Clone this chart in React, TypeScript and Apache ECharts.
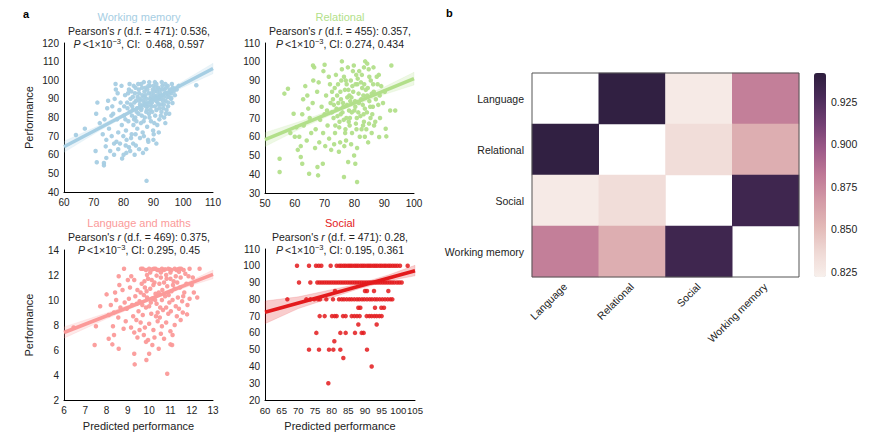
import React, { useEffect, useRef } from "react";
import * as echarts from "echarts";

const FONT = "'Liberation Sans', Arial, Helvetica, sans-serif";

// ---------- Panel a: scatter data ----------
const WM_COLOR = "#a6cee3";
const REL_COLOR = "#b2df8a";
const LANG_COLOR = "#fb9a99";
const SOC_COLOR = "#e31a1c";

const WM_POINTS: number[][] = [
  [80.5,92],[81.2,88],[81.8,95],[82.3,90],[82.9,86],[83.4,97],[83.8,93],[84.2,89],[84.7,91],[85.1,95],[85.5,87],[85.9,98],[86.3,92],[86.6,89],[87.0,94],[87.4,96],[87.7,90],[88.1,86],[88.4,93],[88.8,97],[89.1,91],[89.5,88],[89.8,95],[90.2,92],[90.5,99],[90.9,89],[91.2,94],[91.6,96],[91.9,90],[92.3,93],[92.6,87],[93.0,97],[93.4,91],[93.7,95],[94.1,89],[94.5,93],[94.8,97],[95.2,91],[95.6,95],[96.0,93],[83.0,84],[84.5,85],[86.0,85],[87.5,86],[89.0,84],[90.5,86],[92.0,85],[93.5,87],[95.0,88],[96.5,96],[97.2,92],[82.0,98],[84.0,96],[86.8,99],[88.6,99],[90.0,97],[91.0,98],[92.8,99],[94.0,98],[96.2,98],[85.2,93],[86.9,91],[88.0,95],[89.3,93],[90.7,91],[92.1,95],[93.2,89],[94.6,91],[87.2,88],[88.9,90],[91.4,88],[85.7,90],[83.6,88],[81.5,93],[80.2,86],
  [82.6,94],[83.1,91],[84.9,98],[85.3,89],[86.2,96],[86.9,87],[87.3,92],[88.3,97],[89.0,87],[89.7,90],[90.3,94],[90.8,96],[91.5,92],[92.4,90],[92.9,95],[93.9,93],[94.3,96],[95.4,93],[95.9,90],[96.8,94],[84.4,83],[85.9,84],[87.8,84],[89.4,86],[91.7,87],[93.3,85],[94.9,86],[83.5,79],[86.7,78],[88.7,80],[90.3,77],[92.5,81],[94.2,82],[81.3,85],[82.4,87],
  [76.5,82],[77.8,79],[78.6,84],[79.4,76],[80.1,81],[80.8,73],[81.6,78],[82.1,83],[82.7,71],[83.3,76],[83.9,80],[84.6,74],[85.0,82],[85.8,77],[86.4,72],[87.1,80],[87.9,75],[88.5,82],[89.2,78],[89.9,73],[90.6,81],[91.3,76],[92.0,79],[92.7,83],[93.6,80],[94.4,84],[95.3,82],[78.2,72],[79.9,70],[81.0,68],[82.5,69],[84.0,71],[85.5,69],[86.8,70],[88.2,68],[90.1,71],[91.8,72],[84.3,78],[86.1,81],[87.6,83],[89.6,83],[91.0,84],[80.6,79],[82.8,81],
  [72.0,77],[73.6,79],[74.8,89],[75.9,81],[77.0,90],[77.4,95],[77.3,98],[76.2,86],[75.1,74],[74.2,68],[73.0,71],[76.8,66],[78.0,93],[79.0,88],[79.3,97],[71.2,88],[70.8,82],[74.5,85],[76.0,70],[78.8,66],
  [70.6,62],[71.0,56],[73.4,55.6],[73.4,54.3],[74.2,58.3],[74.0,64.5],[75.5,62],[76.8,60],[78.2,63],[79.5,58],[80.0,60],[80.7,65],[80.9,61],[81.8,64],[83.2,66],[84.1,65],[85.2,63],[86.5,61],[87.6,63],[88.3,67],[90.0,68],[91.0,66],[83.7,60],[77.6,67],[82.2,62],
  [64,70.6],[67,74],[87.7,46],[104.4,97.3],[96,90.5],[96.4,87.8],[94,77],[97.8,95],[98.5,97]
];

const REL_POINTS: number[][] = [
  [70,72],[71,66],[72,78],[72.5,84],[73,70],[73.5,62],[74,75],[74.5,88],[75,68],[75.5,80],[76,73],[76.5,92],[77,64],[77.5,77],[78,85],[78.5,70],[79,81],[79.5,95],[80,74],[80.5,67],[81,88],[81.5,78],[82,71],[82.5,93],[83,82],[83.5,75],[84,64],[84.5,86],[85,79],[85.5,90],[86,72],[86.5,84],[87,68],[87.5,92],[88,77],[74.2,82],[76.8,85],[78.8,90],[80.6,93],[82.2,89],[84.8,96],[79.2,62],[81.8,60],[77.2,58],[75.2,57],[73.2,56],[71.5,59],[69.5,62],[68.5,69],[69,76],[70.5,82],[71.8,88],[73.8,93],[75.8,96],[77.8,97],[79.8,98],[76.2,78],[78.2,74],[80.2,79],[82.8,77],[84.2,73],[86.2,76],[88.5,82],[89,87],[87.8,88],[85.8,83],[83.8,85],[79.6,84],[77.6,81],[75.4,72],[73.6,66],[72.4,73],[81.4,83],[83.2,68],[80.8,70],[78.4,66],[76.4,69],[74.6,78],[72.8,80],[70.8,74],[85.4,70],[87.2,80],[82.6,86],[80.4,88],[78.6,79],[77.4,88],[75.6,90],[73.4,86],[71.4,92],[69.6,95],[66.5,97],[68,89],[67.5,84],[66,78],[65,70],[64.5,75],[63,66],[62.5,72],[61.5,60],[60.5,65],[62,55],[64,58],[65.5,62],[66.8,54],[68.2,57],[67,64],[64.2,82],[63.5,87],[62.8,80],[66.2,90],[70.2,55],[72.2,53],[74.8,52],[76.6,55],[78.9,56],[80.9,54],[83.5,60],[85.8,62],[84.6,57],[82.4,64],[86.6,66],[88.6,70],[89.6,78],[90.2,84],[88.2,93],[86.4,97],[83.2,97],[81.6,95],[85,92],
  [73.1,77],[74.3,71],[75.3,84],[76.3,76],[77.3,70],[78.3,82],[79.3,87],[80.3,76],[81.3,73],[82.3,80],[83.3,88],[84.3,82],[85.3,76],[86.3,88],[77.1,90],[79.1,73],[81.1,91],[83.1,72],[74.9,65],[76.9,62],[80.7,64],[82.9,66],[78.1,68],[84.9,67],
  [54.9,48.3],[54.9,41.2],[57.7,85.6],[56.5,83],[59.6,72.3],[62,49.2],[62.5,45.6],[64.8,40.3],[67.8,39.4],[67.6,43.9],[69.4,45.6],[66.1,98],[70,98.4],[76.5,38.5],[77.9,46.5],[80.3,45.6],[80.9,35.9],[79.9,50],[75.8,100.2],[83.6,100.2],[84.3,99],[92.4,98],[88.3,59.9],[90.7,60.2],[90.5,64.3],[92,74],[93.7,74],[61,53],[60,60],[58.5,62]
];

const LANG_POINTS: number[][] = [
  [9.7,12.5],[9.85,12.4],[10.0,12.5],[10.15,12.45],[10.3,12.5],[10.45,12.4],[10.6,12.5],[10.75,12.45],[10.9,12.5],[11.05,12.4],[11.2,12.5],[11.35,12.45],[11.5,12.5],[11.62,12.4],[10.05,12.2],[10.55,12.2],[11.0,12.2],[11.4,12.25],[9.9,12.0],[10.35,11.95],[10.8,12.0],[11.25,11.9],
  [9.62,12.5],[10.22,12.5],[10.38,12.4],[10.68,12.4],[10.98,12.45],[11.28,12.4],[11.42,12.5],[9.78,11.5],[10.12,11.6],[10.48,11.3],[10.82,11.7],[11.12,11.2],[11.48,11.8],[9.88,10.7],[10.28,10.0],[10.62,10.8],[10.92,10.4],[11.32,11.4],[9.68,9.6],[10.08,9.8],[10.52,9.4],[11.02,9.1],[11.58,9.0],[9.42,9.7],[10.32,8.7],
  [9.3,11.6],[9.45,10.8],[9.55,9.9],[9.65,11.3],[9.75,10.4],[9.85,9.4],[9.95,11.7],[10.05,10.9],[10.15,10.1],[10.25,11.4],[10.35,9.7],[10.45,10.6],[10.55,11.8],[10.65,9.2],[10.75,10.3],[10.85,11.1],[10.95,9.8],[11.05,10.7],[11.15,11.5],[11.25,9.5],[11.35,10.2],[11.45,11.0],[11.55,9.9],[11.65,10.6],[11.75,11.3],[9.5,9.1],[9.7,8.8],[9.9,10.2],[10.1,8.9],[10.3,10.5],[10.5,8.6],[10.7,11.4],[10.9,8.9],[11.1,10.0],[11.3,8.7],[9.35,10.3],[9.6,10.6],[9.8,11.0],[10.0,9.5],[10.2,11.2],[10.4,9.0],[10.6,10.0],[10.8,9.4],[11.0,11.7],[11.2,10.9],[11.4,9.3],[11.6,10.3],[11.8,9.6],[9.2,9.6],[9.05,10.1],[8.95,9.3],[9.1,11.0],[9.25,8.7],[9.4,8.4],[9.6,8.2],[9.8,7.8],[10.0,8.1],[10.2,7.6],[10.4,8.3],[10.6,7.9],[10.8,8.2],[11.0,7.5],[11.2,8.0],[9.55,7.6],[9.75,7.2],[9.95,6.8],[10.25,7.0],[10.55,7.3],[10.7,6.9],[11.1,7.2],[9.45,7.0],[10.15,6.4],[10.45,6.1],[9.85,6.65],
  [8.1,8.8],[8.2,9.6],[8.35,9.0],[8.45,10.0],[8.55,8.6],[8.65,9.4],[8.75,10.8],[8.85,9.8],[8.9,8.3],[9.0,11.6],[8.6,11.2],[8.4,10.6],[8.3,7.9],[8.8,7.7],[9.15,7.8],[9.3,7.4],[12.0,11.2],[11.9,10.1],[11.85,11.9],[12.1,10.6],[11.7,12.1],[12.05,11.8],
  [6.45,7.8],[7.5,7.9],[7.44,6.4],[8.0,10.45],[7.7,9.5],[8.1,6.9],[8.27,6.45],[8.57,6.1],[8.35,7.2],[8.82,12.5],[9.3,5.7],[9.32,4.85],[9.87,5.2],[10.0,5.7],[10.85,4.1],[11.0,6.45],[11.08,6.4],[11.9,12.5],[12.37,12.5],[12.26,10.2],[11.78,8.85],[11.48,8.4],[8.57,11.9],[9.16,11.9]
];

const SOC_POINTS: number[][] = [
  [69.6,100],[73.2,100],[75.3,100],[76.1,100],[76.9,100],[79.7,100],[81.5,100],[82.3,100],[82.9,100],[83.6,100],[84.2,100],[84.9,100],[85.5,100],[86.1,100],[86.8,100],[87.4,100],[88.0,100],[88.7,100],[89.3,100],[89.9,100],[90.6,100],[91.2,100],[91.8,100],[92.5,100],[93.1,100],[93.7,100],[94.4,100],[95.0,100],[95.7,100],[96.3,100],[97.0,100],[97.6,100],[98.3,100],[99.0,100],[99.7,100],[100.5,100],[102.8,100],
  [70.2,90],[73.6,90],[75.7,90],[76.4,90],[77.1,90],[77.8,90],[78.5,90],[79.2,90],[79.9,90],[80.6,90],[81.3,90],[82.0,90],[82.7,90],[83.4,90],[84.1,90],[84.8,90],[85.5,90],[86.2,90],[86.9,90],[87.6,90],[88.3,90],[89.0,90],[89.7,90],[90.4,90],[91.1,90],[91.8,90],[92.5,90],[93.2,90],[93.9,90],[94.6,90],[95.3,90],[96.0,90],[96.7,90],[97.4,90],[98.1,90],[98.8,90],[99.6,90],[100.3,90],[101.0,90],
  [81.0,85],[90.0,85],[90.6,85],[92.7,85],[97.0,85],
  [66.7,80],[72.4,80],[73.6,80],[74.8,80],[75.9,80],[76.5,80],[78.4,80],[80.4,80],[82.2,80],[83.0,80],[83.7,80],[84.5,80],[85.3,80],[86.0,80],[86.8,80],[87.6,80],[88.3,80],[89.1,80],[89.8,80],[90.6,80],[91.4,80],[92.1,80],[92.9,80],[93.6,80],[94.4,80],[95.2,80],[96.0,80],[96.8,80],[97.6,80],[98.2,80],
  [88.0,75],[88.6,75],[93.0,75],[94.9,75],[95.7,75],
  [76.4,70],[77.9,70],[80.1,70],[80.9,70],[81.5,70],[83.4,70],[84.2,70],[86.0,70],[86.8,70],[87.6,70],[88.4,70],[90.5,70],[91.3,70],[92.0,70],[92.8,70],[93.5,70],[94.3,70],[95.0,70],
  [88.0,65],[93.5,65],
  [75.4,60],[82.6,60],[84.2,60],[87.0,60],[89.0,60],[89.6,60],
  [80.8,55],
  [73.2,50],[76.2,50],[79.2,50],[80.5,50],[82.6,50],[90.6,50],
  [83.5,45],[92.0,40],[79.0,30]
];

// regression lines (end points)
const WM_FIT = [[60, 64.3], [110, 106.3]];
const REL_FIT = [[50, 58.5], [100, 91]];
const LANG_FIT = [[6, 7.4], [13, 12.05]];
const SOC_FIT = [[60, 72.3], [105, 97]];

// confidence bands: x, lower, upper
const WM_BAND_X = [60, 72, 85, 98, 110];
const WM_BAND_LO = [61.3, 73.0, 84.5, 94.8, 103.5];
const WM_BAND_HI = [67.3, 75.8, 86.1, 97.6, 109.1];
const REL_BAND_X = [50, 63, 77, 90, 100];
const REL_BAND_LO = [54.8, 65.2, 75.0, 82.5, 87.6];
const REL_BAND_HI = [62.2, 68.8, 77.2, 86.5, 94.4];
const LANG_BAND_X = [6, 8, 10.2, 12, 13];
const LANG_BAND_LO = [6.95, 8.5, 10.07, 11.18, 11.7];
const LANG_BAND_HI = [7.85, 8.96, 10.31, 11.58, 12.4];
const SOC_BAND_X = [60, 70, 88, 97, 105];
const SOC_BAND_LO = [65.5, 74.5, 86.2, 91, 94];
const SOC_BAND_HI = [79, 81.5, 89.2, 94.5, 100.3];

// ---------- Panel b: heatmap ----------
const TASKS = ["Language", "Relational", "Social", "Working memory"];
// [col, row, value]; diagonal left empty
const HEAT_VALUES: number[][] = [
  [1, 0, 0.940], [2, 0, 0.826], [3, 0, 0.879],
  [0, 1, 0.940], [2, 1, 0.834], [3, 1, 0.857],
  [0, 2, 0.826], [1, 2, 0.834], [3, 2, 0.933],
  [0, 3, 0.879], [1, 3, 0.857], [2, 3, 0.933],
];
const HEAT_MIN = 0.822;
const HEAT_MAX = 0.942;
const COLORBAR_TICKS = [0.825, 0.85, 0.875, 0.9, 0.925];
const HEAT_COLORS = ["#f8f0ec", "#efd8d4", "#e2b8b6", "#d39aa6", "#bf7896", "#9d5a88", "#734073", "#4b2c5a", "#2d1e3e"];

const TXT = "#222";

function valueAxis(gridIndex: number, min: number, max: number, interval: number, name?: string, isY?: boolean, labelSize = 10) {
  return {
    type: "value",
    gridIndex,
    min,
    max,
    interval,
    name: name || "",
    nameLocation: "middle",
    nameGap: isY ? 30 : 20,
    nameTextStyle: { fontFamily: FONT, fontSize: 11, color: TXT },
    axisLine: { show: true, lineStyle: { color: "#000", width: 1 } },
    axisTick: { show: false },
    splitLine: { show: false },
    axisLabel: { fontFamily: FONT, fontSize: labelSize, color: TXT, margin: 5, hideOverlap: false },
  };
}

function scatter(idx: number, pts: number[][], color: string, opacity = 0.95) {
  return {
    type: "scatter",
    xAxisIndex: idx,
    yAxisIndex: idx,
    data: pts,
    symbolSize: 4.5,
    itemStyle: { color, opacity },
    z: 2,
  };
}

function fit(idx: number, pts: number[][], color: string) {
  return {
    type: "line",
    xAxisIndex: idx,
    yAxisIndex: idx,
    data: pts,
    symbol: "none",
    lineStyle: { color, width: 3.5 },
    z: 4,
  };
}

function band(idx: number, xs: number[], lo: number[], hi: number[], color: string) {
  const data = xs.map((x, i) => [x, lo[i], hi[i]]);
  return {
    type: "custom",
    xAxisIndex: idx,
    yAxisIndex: idx,
    data,
    encode: { x: 0, y: [1, 2] },
    z: 3,
    renderItem: (params: any, api: any) => {
      if (params.dataIndex !== 0) return null;
      const top = data.map((d) => api.coord([d[0], d[2]]));
      const bot = data.map((d) => api.coord([d[0], d[1]])).reverse();
      return {
        type: "polygon",
        shape: { points: top.concat(bot) },
        style: { fill: color, opacity: 0.22, stroke: color, lineWidth: 0.6 },
      };
    },
  };
}

function statText(cx: number, y: number, name: string, color: string, df: string, r: string, ci: string) {
  return [
    {
      type: "text",
      x: cx,
      y: y,
      style: { text: name, fill: color, font: `11px ${FONT}`, textAlign: "center", textVerticalAlign: "middle" },
    },
    {
      type: "text",
      x: cx,
      y: y + 14,
      style: {
        text: `Pearson's {i|r} (d.f. = ${df}): ${r},`,
        rich: { i: { fontStyle: "italic", fontFamily: FONT, fontSize: 10.5, fill: TXT } },
        fill: TXT,
        font: `10.5px ${FONT}`,
        textAlign: "center",
        textVerticalAlign: "middle",
      },
    },
    {
      type: "text",
      x: cx,
      y: y + 27,
      style: {
        text: `{i|P}\u2009<1\u00d710{s|\u22123}, CI: ${ci}`,
        rich: {
          i: { fontStyle: "italic", fontFamily: FONT, fontSize: 10.5, fill: TXT },
          s: { fontFamily: FONT, fontSize: 7.5, fill: TXT, verticalAlign: "top", padding: [0, 0, 5, 0] },
        },
        fill: TXT,
        font: `10.5px ${FONT}`,
        textAlign: "center",
        textVerticalAlign: "middle",
      },
    },
  ];
}

export default function App() {
  const ref = useRef<HTMLDivElement>(null);
  useEffect(() => {
    if (!ref.current) return;
    const chart = echarts.init(ref.current, null, { renderer: "svg" });
    const option: any = {
      animation: false,
      backgroundColor: "#fff",
      textStyle: { fontFamily: FONT },
      grid: [
        { left: 64, top: 43, width: 149, height: 149 },
        { left: 265, top: 43, width: 149, height: 150 },
        { left: 64, top: 250, width: 149, height: 150 },
        { left: 265, top: 249, width: 150, height: 151 },
        { left: 532, top: 73, width: 267, height: 204 },
        { left: 814, top: 73, width: 12, height: 204 },
      ],
      xAxis: [
        valueAxis(0, 60, 110, 10),
        valueAxis(1, 50, 100, 10),
        valueAxis(2, 6, 13, 1, "Predicted performance"),
        valueAxis(3, 60, 105, 5, "Predicted performance", false, 9.6),
        {
          type: "category",
          gridIndex: 4,
          data: TASKS,
          axisLine: { show: false },
          axisTick: { show: false },
          splitLine: { show: false },
          axisLabel: { rotate: 45, fontFamily: FONT, fontSize: 10.5, color: TXT, margin: 8, interval: 0 },
        },
        { type: "value", gridIndex: 5, show: false, min: 0, max: 1 },
      ],
      yAxis: [
        valueAxis(0, 40, 120, 10, "Performance", true),
        valueAxis(1, 30, 110, 10, "", true),
        valueAxis(2, 2, 14, 2, "Performance", true),
        valueAxis(3, 20, 110, 10, "", true),
        {
          type: "category",
          gridIndex: 4,
          data: TASKS,
          inverse: true,
          axisLine: { show: false },
          axisTick: { show: false },
          splitLine: { show: false },
          axisLabel: { fontFamily: FONT, fontSize: 10.5, color: TXT, margin: 8, interval: 0 },
        },
        {
          type: "value",
          gridIndex: 5,
          position: "right",
          min: HEAT_MIN,
          max: HEAT_MAX,
          axisLine: { show: false },
          axisTick: { show: false },
          splitLine: { show: false },
          axisLabel: {
            customValues: COLORBAR_TICKS,
            formatter: (v: number) => v.toFixed(3),
            fontFamily: FONT,
            fontSize: 10.5,
            color: TXT,
            margin: 5,
          },
        },
      ],
      visualMap: {
        type: "continuous",
        seriesIndex: 16,
        min: HEAT_MIN,
        max: HEAT_MAX,
        orient: "vertical",
        left: 814,
        top: 73,
        itemWidth: 12,
        itemHeight: 204,
        padding: 0,
        calculable: false,
        realtime: false,
        hoverLink: false,
        inRange: { color: HEAT_COLORS },
        textStyle: { color: "transparent", fontSize: 1 },
        text: null,
      },
      series: [
        scatter(0, WM_POINTS, WM_COLOR),
        band(0, WM_BAND_X, WM_BAND_LO, WM_BAND_HI, WM_COLOR),
        fit(0, WM_FIT, WM_COLOR),
        { type: "line", data: [], xAxisIndex: 0, yAxisIndex: 0 },
        scatter(1, REL_POINTS, REL_COLOR),
        band(1, REL_BAND_X, REL_BAND_LO, REL_BAND_HI, REL_COLOR),
        fit(1, REL_FIT, REL_COLOR),
        { type: "line", data: [], xAxisIndex: 1, yAxisIndex: 1 },
        scatter(2, LANG_POINTS, LANG_COLOR),
        band(2, LANG_BAND_X, LANG_BAND_LO, LANG_BAND_HI, LANG_COLOR),
        fit(2, LANG_FIT, LANG_COLOR),
        { type: "line", data: [], xAxisIndex: 2, yAxisIndex: 2 },
        scatter(3, SOC_POINTS, SOC_COLOR, 0.85),
        band(3, SOC_BAND_X, SOC_BAND_LO, SOC_BAND_HI, SOC_COLOR),
        fit(3, SOC_FIT, SOC_COLOR),
        { type: "line", data: [], xAxisIndex: 3, yAxisIndex: 3 },
        {
          type: "heatmap",
          xAxisIndex: 4,
          yAxisIndex: 4,
          data: HEAT_VALUES,
          itemStyle: { borderWidth: 0 },
          emphasis: { disabled: true },
        },
      ],
      graphic: [
        { type: "text", x: 23, y: 14, style: { text: "a", font: `bold 11px ${FONT}`, fill: "#000", textVerticalAlign: "middle" } },
        { type: "text", x: 446, y: 13, style: { text: "b", font: `bold 11px ${FONT}`, fill: "#000", textVerticalAlign: "middle" } },
        ...statText(139, 17, "Working memory", WM_COLOR, "471", "0.536", " 0.468, 0.597"),
        ...statText(340, 17, "Relational", REL_COLOR, "455", "0.357", "0.274, 0.434"),
        ...statText(139, 223, "Language and maths", LANG_COLOR, "469", "0.375", "0.295, 0.45"),
        ...statText(340, 223, "Social", SOC_COLOR, "471", "0.28", "0.195, 0.361"),
        {
          type: "rect",
          shape: { x: 532, y: 73, width: 267, height: 204 },
          style: { fill: "none", stroke: "#555", lineWidth: 1 },
          z: 100,
        },
      ],
    };
    chart.setOption(option);
    return () => chart.dispose();
  }, []);
  return (
    <div
      ref={ref}
      style={{ position: "fixed", left: 0, top: 0, width: 889, height: 437, background: "#fff" }}
    />
  );
}
